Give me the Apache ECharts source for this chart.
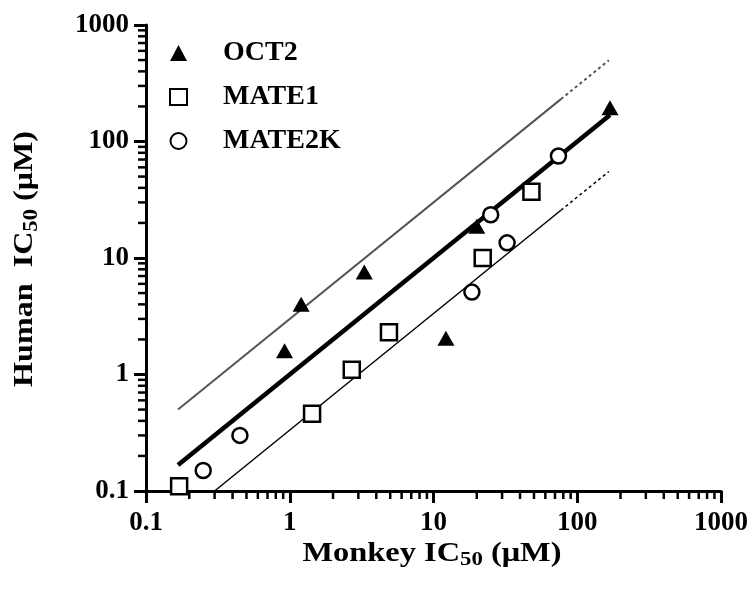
<!DOCTYPE html>
<html><head><meta charset="utf-8">
<script src="https://cdn.jsdelivr.net/npm/echarts@6/dist/echarts.min.js"></script>
<style>html,body{margin:0;padding:0;background:#fff}#c{width:754px;height:590px}</style>
</head><body><div id="c"></div>
<script>
// ---- data ----
const oct2 = [[0.92,1.6],[1.2,4.0],[3.3,7.6],[12.2,2.05],[20,18.7],[169,195]];
const mate1 = [[0.17,0.11],[1.43,0.46],[2.7,1.1],[4.9,2.3],[22,10],[48,37]];
const mate2k = [[0.25,0.15],[0.45,0.3],[18.5,5.1],[25,23.5],[32.5,13.5],[74,75]];
const fitLine = [[0.167,0.167],[169,169]];
const upperSolid = [[0.167,0.5],[77,231]];
const upperDash = [[77,231],[166,498]];
const lowerSolid = [[0.3,0.1],[77,25.7]];
const lowerDash = [[77,25.7],[166,55.3]];
const axisMin = 0.1, axisMax = 1000;
const minorTicks = [0.2,0.3,0.4,0.5,0.6,0.7,0.8,0.9,2,3,4,5,6,7,8,9,20,30,40,50,60,70,80,90,200,300,400,500,600,700,800,900];
const seriesNames = ['OCT2','MATE1','MATE2K'];

const FONT = '"Liberation Serif", "Times New Roman", serif';
const chart = echarts.init(document.getElementById('c'));

function minorTickSeries(isX){
  return {
    type:'custom', silent:true, z:5, clip:false,
    data: minorTicks.map(v => isX ? [v, axisMin] : [axisMin, v]),
    encode:{x:0,y:1},
    renderItem:(params, api) => {
      const p = api.coord([api.value(0), api.value(1)]);
      const shape = isX ? {x1:p[0], y1:p[1], x2:p[0], y2:p[1]+8} : {x1:p[0], y1:p[1], x2:p[0]-8, y2:p[1]};
      return {type:'line', shape, style:{stroke:'#000', lineWidth:2.5}};
    }
  };
}
function refLine(data, color, width, dashed){
  return {type:'line', data, showSymbol:false, symbol:'none', silent:true, z:1,
    lineStyle:{color, width, type: dashed ? [3,3] : 'solid'}};
}

const labelStyle = {color:'#000', fontFamily:FONT, fontWeight:'bold', fontSize:27,
  formatter: v => String(+(+v).toPrecision(3))};
const axisCommon = {
  type:'log', logBase:10, min:axisMin, max:axisMax,
  axisLine:{show:true, lineStyle:{color:'#000', width:3}},
  axisTick:{show:true, inside:false, length:12, lineStyle:{color:'#000', width:3}},
  splitLine:{show:false}
};

const titleRich = {
  a:{fontFamily:FONT, fontWeight:'bold', fontSize:27, fill:'#000'},
  s:{fontFamily:FONT, fontWeight:'bold', fontSize:19, fill:'#000', padding:[13,0,0,0]}
};

chart.setOption({
  animation:false,
  backgroundColor:'#fff',
  grid:{left:146, right:33, top:25, bottom:99, containLabel:false},
  xAxis: Object.assign({}, axisCommon, {axisLabel:Object.assign({}, labelStyle, {margin:19})}),
  yAxis: Object.assign({}, axisCommon, {axisLabel:Object.assign({}, labelStyle, {margin:17})}),
  legend:{
    orient:'vertical', left:169, top:39, padding:0, itemWidth:17, itemHeight:16, itemGap:16,
    data:seriesNames,
    textStyle:{color:'#000', fontFamily:FONT, fontWeight:'bold', fontSize:28, padding:[0,0,0,31]}
  },
  series:[
    refLine(upperSolid, '#555', 2, false),
    refLine(upperDash, '#555', 2, true),
    refLine(lowerSolid, '#000', 1.5, false),
    refLine(lowerDash, '#000', 1.5, true),
    refLine(fitLine, '#000', 4.5, false),
    minorTickSeries(true),
    minorTickSeries(false),
    {name:seriesNames[0], type:'scatter', data:oct2, symbol:'triangle', symbolSize:[17,15], z:3,
      itemStyle:{color:'#000', opacity:1}},
    {name:seriesNames[1], type:'scatter', data:mate1, symbol:'rect', symbolSize:16, z:3,
      itemStyle:{color:'#fff', borderColor:'#000', borderWidth:2.5, opacity:1}},
    {name:seriesNames[2], type:'scatter', data:mate2k, symbol:'circle', symbolSize:15, z:3,
      itemStyle:{color:'#fff', borderColor:'#000', borderWidth:2.5, opacity:1}}
  ],
  graphic:[
    {type:'text', x:432, y:554, scaleX:1.2, style:{
      text:'{a|Monkey IC}{s|50}{a| (μM)}', align:'center', verticalAlign:'middle', rich:titleRich}},
    {type:'text', x:25, y:259, rotation:Math.PI/2, scaleX:1.19, scaleY:1.05, style:{
      text:'{a|Human  IC}{s|50}{a| (μM)}', align:'center', verticalAlign:'middle', rich:titleRich}}
  ]
});
</script></body></html>
